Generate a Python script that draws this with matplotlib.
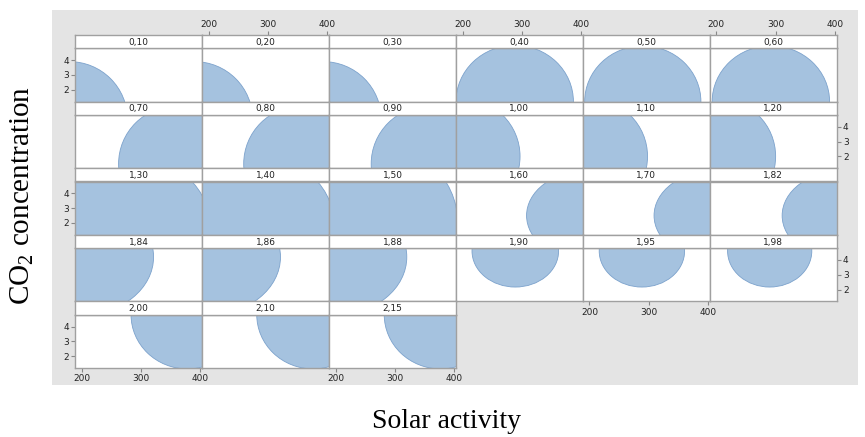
import numpy as np
import matplotlib
matplotlib.use("Agg")
import matplotlib.pyplot as plt
from matplotlib.patches import Ellipse, Rectangle

plt.rcParams['mathtext.fontset'] = 'custom'
plt.rcParams['mathtext.rm'] = 'Liberation Serif'

# panel labels (ratio level) and the shaded region of each panel,
# given as an ellipse in data units: centre x, centre y, half-width, half-height
labels = ['0,10', '0,20', '0,30', '0,40', '0,50', '0,60',
          '0,70', '0,80', '0,90', '1,00', '1,10', '1,20',
          '1,30', '1,40', '1,50', '1,60', '1,70', '1,82',
          '1,84', '1,86', '1,88', '1,90', '1,95', '1,98',
          '2,00', '2,10', '2,15']
cx = [179, 176, 179, 288, 290, 292,
      360, 357, 358, 199, 200, 202,
      250, 250, 250, 408, 409, 411,
      200, 200, 200, 289, 288.5, 290,
      378, 376, 377]
cy = [0.0, 0.0, 0.0, 1.2, 1.2, 1.2,
      1.5, 1.5, 1.5, 2.0, 2.0, 2.0,
      2.0, 2.0, 2.0, 2.5, 2.5, 2.5,
      4.2, 4.2, 4.2, 4.6, 4.6, 4.6,
      4.8, 4.8, 4.8]
rx = [98, 98, 98, 99, 98, 99,
      98, 98, 98, 98, 98, 98,
      165, 161, 156, 100, 100, 100,
      121, 121, 120, 73, 72, 71,
      95, 95, 95]
ry = [3.9, 3.9, 3.9, 3.8, 3.76, 3.77,
      3.9, 3.9, 3.9, 3.9, 3.9, 3.9,
      4.92, 5.0, 5.67, 3.0, 3.0, 3.0,
      3.9, 3.9, 3.9, 2.43, 2.43, 2.43,
      3.66, 3.66, 3.66]

xticks = [200, 300, 400]
yticks = [2, 3, 4]
xlim = (189, 403)
ylim = (1.2, 4.8)

W, H = 865, 437
fig = plt.figure(figsize=(W / 100, H / 100), dpi=100)

def fx(px):
    return px / W

def fy(py):
    return 1 - py / H

# gray backdrop of the trellis
fig.add_artist(Rectangle((fx(52), fy(385)), (858 - 52) / W, (385 - 10) / H,
                         transform=fig.transFigure, facecolor='#e4e4e4',
                         edgecolor='none', zorder=-5))

ncol = 6
col_w = 126.9
x_left = 75.3
row_h = 66.6
strip_h = 13.3
panel_h = row_h - strip_h
line_c = '#a0a0a0'
fill_c = '#a5c2df'
edge_c = '#7ca2cc'
txt_c = '#222222'
nrow = int(np.ceil(len(labels) / ncol))

for i, lab in enumerate(labels):
    r, c = divmod(i, ncol)
    x0 = x_left + c * col_w
    s_top = 35 + r * row_h
    p_top = s_top + strip_h
    p_bot = p_top + panel_h

    ax = fig.add_axes([fx(x0), fy(p_bot), col_w / W, panel_h / H])
    ax.set_xlim(*xlim)
    ax.set_ylim(*ylim)
    ax.add_patch(Ellipse((cx[i], cy[i]), 2 * rx[i], 2 * ry[i],
                         facecolor=fill_c, edgecolor=edge_c, lw=0.6))
    ax.set_xticks(xticks)
    ax.set_yticks(yticks)
    ax.tick_params(bottom=False, top=False, left=False, right=False,
                   labelbottom=False, labeltop=False, labelleft=False, labelright=False,
                   length=3, width=0.8, color='#888888', labelsize=6.5,
                   labelcolor=txt_c, pad=1.5)
    for sp in ax.spines.values():
        sp.set_color(line_c)
        sp.set_linewidth(1.0)

    last_row = (i + ncol >= len(labels))
    if c % 2 == 0 and last_row:
        ax.tick_params(bottom=True, labelbottom=True)
    if c == 0 and r % 2 == 0:
        ax.tick_params(left=True, labelleft=True)
    if c == ncol - 1 and r % 2 == 1:
        ax.tick_params(right=True, labelright=True)

    st = fig.add_axes([fx(x0), fy(p_top), col_w / W, strip_h / H])
    st.set_xlim(*xlim)
    st.set_facecolor('white')
    st.set_yticks([])
    st.set_xticks(xticks)
    st.tick_params(bottom=False, labelbottom=False, top=False, labeltop=False,
                   length=3, width=0.8, color='#888888', labelsize=6.5,
                   labelcolor=txt_c, pad=1.5)
    if r == 0 and c % 2 == 1:
        st.tick_params(top=True, labeltop=True)
    for sp in st.spines.values():
        sp.set_color(line_c)
        sp.set_linewidth(1.0)
    st.text(0.5, 0.45, lab, transform=st.transAxes, ha='center', va='center',
            fontsize=6.5, color=txt_c)

fig.text(fx(22), fy(195), 'CO$_2$ concentration', rotation=90, ha='center',
         va='center', fontsize=21, family='Liberation Serif', color='black')
fig.text(fx(447), fy(421), 'Solar activity', ha='center', va='center',
         fontsize=20, family='Liberation Serif', color='black')

fig.savefig('out.png', dpi=100)
